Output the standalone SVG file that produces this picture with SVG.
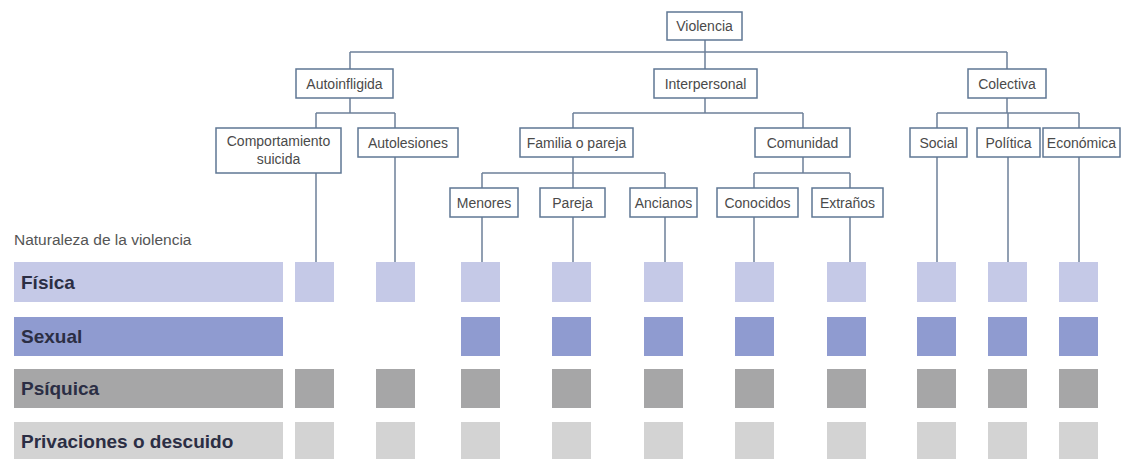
<svg xmlns="http://www.w3.org/2000/svg" width="1121" height="459" viewBox="0 0 1121 459">
<style>
.box{fill:#fff;stroke:#5f7794;stroke-width:1.5}
.lbl{font-family:"Liberation Sans",Arial,sans-serif;font-size:14px;fill:#4a4a4a;text-anchor:middle}
.con{fill:none;stroke:#6d8099;stroke-width:1.5}
.rowlbl{font-family:"Liberation Sans",Arial,sans-serif;font-size:19px;font-weight:bold;fill:#2b2e44}
.f{fill:#c5c9e7}.s{fill:#8f9bd0}.p{fill:#a6a6a7}.d{fill:#d3d3d3}
</style>
<rect width="1121" height="459" fill="#fff"/>
<g id="connectors" class="con">
<path d="M705 40V70M350 52H1007M350 52V70M1007 52V70"/>
<path d="M350 98V113M316 113H395M316 113V128M395 113V128"/>
<path d="M705 98V113M573 113H803M573 113V128M803 113V128"/>
<path d="M1007 98V113M937 113H1079M937 113V128M1008 113V128M1079 113V128"/>
<path d="M573 157V173M482 173H665M482 173V188M573 173V188M665 173V188"/>
<path d="M803 157V173M754 173H850M754 173V188M850 173V188"/>
<path d="M316 173V262M395 157V262M482 217V262M573 217V262M665 217V262M754 217V262M850 217V262M937 157V262M1008 157V262M1079 157V262"/>
</g>
<g id="n-violencia"><rect class="box" x="667" y="12" width="75" height="28"/><text class="lbl" x="704.5" y="31">Violencia</text></g>
<g id="n-autoinfligida"><rect class="box" x="296" y="69" width="97" height="29"/><text class="lbl" x="344.5" y="88.5">Autoinfligida</text></g>
<g id="n-interpersonal"><rect class="box" x="654" y="69" width="103" height="29"/><text class="lbl" x="705.5" y="88.5">Interpersonal</text></g>
<g id="n-colectiva"><rect class="box" x="968" y="69" width="78" height="29"/><text class="lbl" x="1007" y="88.5">Colectiva</text></g>
<g id="n-comportamiento"><rect class="box" x="216" y="128" width="125" height="45"/><text class="lbl" x="278.5" y="146">Comportamiento</text><text class="lbl" x="278.5" y="164">suicida</text></g>
<g id="n-autolesiones"><rect class="box" x="358" y="128" width="100" height="29"/><text class="lbl" x="408" y="147.5">Autolesiones</text></g>
<g id="n-familia"><rect class="box" x="520" y="128" width="113" height="29"/><text class="lbl" x="576.5" y="147.5">Familia o pareja</text></g>
<g id="n-comunidad"><rect class="box" x="755" y="128" width="95" height="29"/><text class="lbl" x="802.5" y="147.5">Comunidad</text></g>
<g id="n-social"><rect class="box" x="910" y="128" width="57" height="29"/><text class="lbl" x="938.5" y="147.5">Social</text></g>
<g id="n-politica"><rect class="box" x="977" y="128" width="63" height="29"/><text class="lbl" x="1008.5" y="147.5">Política</text></g>
<g id="n-economica"><rect class="box" x="1043" y="128" width="77" height="29"/><text class="lbl" x="1081.5" y="147.5">Económica</text></g>
<g id="n-menores"><rect class="box" x="450" y="188" width="68" height="29"/><text class="lbl" x="484" y="207.5">Menores</text></g>
<g id="n-pareja"><rect class="box" x="540" y="188" width="65" height="29"/><text class="lbl" x="572.5" y="207.5">Pareja</text></g>
<g id="n-ancianos"><rect class="box" x="630" y="188" width="67" height="29"/><text class="lbl" x="663.5" y="207.5">Ancianos</text></g>
<g id="n-conocidos"><rect class="box" x="717" y="188" width="81" height="29"/><text class="lbl" x="757.5" y="207.5">Conocidos</text></g>
<g id="n-extranos"><rect class="box" x="812" y="188" width="71" height="29"/><text class="lbl" x="847.5" y="207.5">Extraños</text></g>
<text x="14" y="245" font-family="Liberation Sans,Arial,sans-serif" font-size="15.5" fill="#555">Naturaleza de la violencia</text>
<g id="row-fisica">
<rect class="f" x="14" y="262" width="269" height="40"/><text class="rowlbl" x="21" y="289">Física</text>
<rect class="f" x="295" y="262" width="39" height="40"/><rect class="f" x="376" y="262" width="39" height="40"/><rect class="f" x="461" y="262" width="39" height="40"/><rect class="f" x="552" y="262" width="39" height="40"/><rect class="f" x="644" y="262" width="39" height="40"/><rect class="f" x="735" y="262" width="39" height="40"/><rect class="f" x="827" y="262" width="39" height="40"/><rect class="f" x="917" y="262" width="39" height="40"/><rect class="f" x="988" y="262" width="39" height="40"/><rect class="f" x="1059" y="262" width="39" height="40"/>
</g>
<g id="row-sexual">
<rect class="s" x="14" y="317" width="269" height="39"/><text class="rowlbl" x="21" y="343">Sexual</text>
<rect class="s" x="461" y="317" width="39" height="39"/><rect class="s" x="552" y="317" width="39" height="39"/><rect class="s" x="644" y="317" width="39" height="39"/><rect class="s" x="735" y="317" width="39" height="39"/><rect class="s" x="827" y="317" width="39" height="39"/><rect class="s" x="917" y="317" width="39" height="39"/><rect class="s" x="988" y="317" width="39" height="39"/><rect class="s" x="1059" y="317" width="39" height="39"/>
</g>
<g id="row-psiquica">
<rect class="p" x="14" y="369" width="269" height="39"/><text class="rowlbl" x="21" y="395">Psíquica</text>
<rect class="p" x="295" y="369" width="39" height="39"/><rect class="p" x="376" y="369" width="39" height="39"/><rect class="p" x="461" y="369" width="39" height="39"/><rect class="p" x="552" y="369" width="39" height="39"/><rect class="p" x="644" y="369" width="39" height="39"/><rect class="p" x="735" y="369" width="39" height="39"/><rect class="p" x="827" y="369" width="39" height="39"/><rect class="p" x="917" y="369" width="39" height="39"/><rect class="p" x="988" y="369" width="39" height="39"/><rect class="p" x="1059" y="369" width="39" height="39"/>
</g>
<g id="row-privaciones">
<rect class="d" x="14" y="422" width="269" height="39"/><text class="rowlbl" x="21" y="448">Privaciones o descuido</text>
<rect class="d" x="295" y="422" width="39" height="39"/><rect class="d" x="376" y="422" width="39" height="39"/><rect class="d" x="461" y="422" width="39" height="39"/><rect class="d" x="552" y="422" width="39" height="39"/><rect class="d" x="644" y="422" width="39" height="39"/><rect class="d" x="735" y="422" width="39" height="39"/><rect class="d" x="827" y="422" width="39" height="39"/><rect class="d" x="917" y="422" width="39" height="39"/><rect class="d" x="988" y="422" width="39" height="39"/><rect class="d" x="1059" y="422" width="39" height="39"/>
</g>
</svg>
